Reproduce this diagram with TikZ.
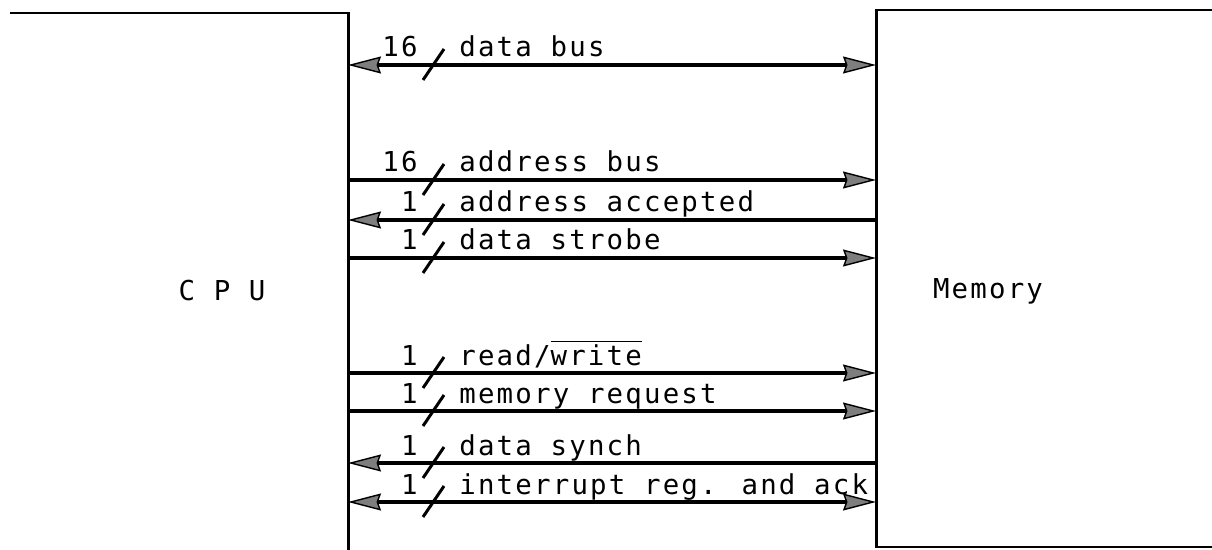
\documentclass[tikz,border=0pt]{standalone}
\usepackage{fontspec}
\usepackage{tikz}
\usetikzlibrary{arrows.meta}
\newfontfamily\ttyfont[LetterSpace=8]{DejaVu Sans Mono}
\newcommand\lblfont{\fontsize{15.6pt}{18pt}\selectfont\ttyfont}

\begin{document}
\begin{tikzpicture}[x=0.02cm,y=-0.02cm]
\tikzset{box/.style = {line width=1.7pt}}
\tikzset{wire/.style = {line width=1.8pt, >={Stealth[length=0.66cm,width=0.34cm,inset=0.06cm,fill=gray!55!black!70,line width=0.8pt]}}}
\tikzset{tick/.style = {line width=1.7pt}}
\tikzset{lbl/.style = {font=\lblfont, inner sep=0pt}}
\tikzset{num/.style = {lbl, anchor=base east}}
\tikzset{sig/.style = {lbl, anchor=base west}}
\useasboundingbox (0,0) rectangle (1212,550);
% boxes
\draw[box] (10,13) -- (348,13) -- (348,550);
\draw[box] (1212,10) -- (876,10) -- (876,547) -- (1212,547);
\node[lbl, anchor=base] (cpu) at (222,300) {C P U};
\node[lbl, anchor=base] (mem) at (988,298) {Memory};
% wire ends
\coordinate (c1) at (348,65);  \coordinate (m1) at (876,65);
\coordinate (c2) at (348,180); \coordinate (m2) at (876,180);
\coordinate (c3) at (348,220); \coordinate (m3) at (876,220);
\coordinate (c4) at (348,258); \coordinate (m4) at (876,258);
\coordinate (c5) at (348,373); \coordinate (m5) at (876,373);
\coordinate (c6) at (348,411); \coordinate (m6) at (876,411);
\coordinate (c7) at (348,463); \coordinate (m7) at (876,463);
\coordinate (c8) at (348,502); \coordinate (m8) at (876,502);
% wires
\draw[wire,<->] (c1) -- (m1);
\draw[wire,->] (c2) -- (m2);
\draw[wire,<-] (c3) -- (m3);
\draw[wire,->] (c4) -- (m4);
\draw[wire,->] (c5) -- (m5);
\draw[wire,->] (c6) -- (m6);
\draw[wire,<-] (c7) -- (m7);
\draw[wire,<->] (c8) -- (m8);
% slashes
\draw[tick] ([shift={(75,15)}]c1) -- ([shift={(96,-16)}]c1);
\draw[tick] ([shift={(75,15)}]c2) -- ([shift={(96,-16)}]c2);
\draw[tick] ([shift={(75,15)}]c3) -- ([shift={(96,-16)}]c3);
\draw[tick] ([shift={(75,15)}]c4) -- ([shift={(96,-16)}]c4);
\draw[tick] ([shift={(75,15)}]c5) -- ([shift={(96,-16)}]c5);
\draw[tick] ([shift={(75,15)}]c6) -- ([shift={(96,-16)}]c6);
\draw[tick] ([shift={(75,15)}]c7) -- ([shift={(96,-16)}]c7);
\draw[tick] ([shift={(75,15)}]c8) -- ([shift={(96,-16)}]c8);
% labels
\node[num] (n1) at ([shift={(70,-8)}]c1) {16};
\node[sig] (t1) at ([shift={(111,-8)}]c1) {data bus};
\node[num] (n2) at ([shift={(70,-8)}]c2) {16};
\node[sig] (t2) at ([shift={(111,-8)}]c2) {address bus};
\node[num] (n3) at ([shift={(70,-8)}]c3) {1};
\node[sig] (t3) at ([shift={(111,-8)}]c3) {address accepted};
\node[num] (n4) at ([shift={(70,-8)}]c4) {1};
\node[sig] (t4) at ([shift={(111,-8)}]c4) {data strobe};
\node[num] (n5) at ([shift={(70,-8)}]c5) {1};
\node[sig] (t5) at ([shift={(111,-8)}]c5) {read/$\overline{\mbox{write}}$};
\node[num] (n6) at ([shift={(70,-8)}]c6) {1};
\node[sig] (t6) at ([shift={(111,-8)}]c6) {memory request};
\node[num] (n7) at ([shift={(70,-8)}]c7) {1};
\node[sig] (t7) at ([shift={(111,-8)}]c7) {data synch};
\node[num] (n8) at ([shift={(70,-8)}]c8) {1};
\node[sig] (t8) at ([shift={(111,-8)}]c8) {interrupt reg. and ack};
\end{tikzpicture}
\end{document}
